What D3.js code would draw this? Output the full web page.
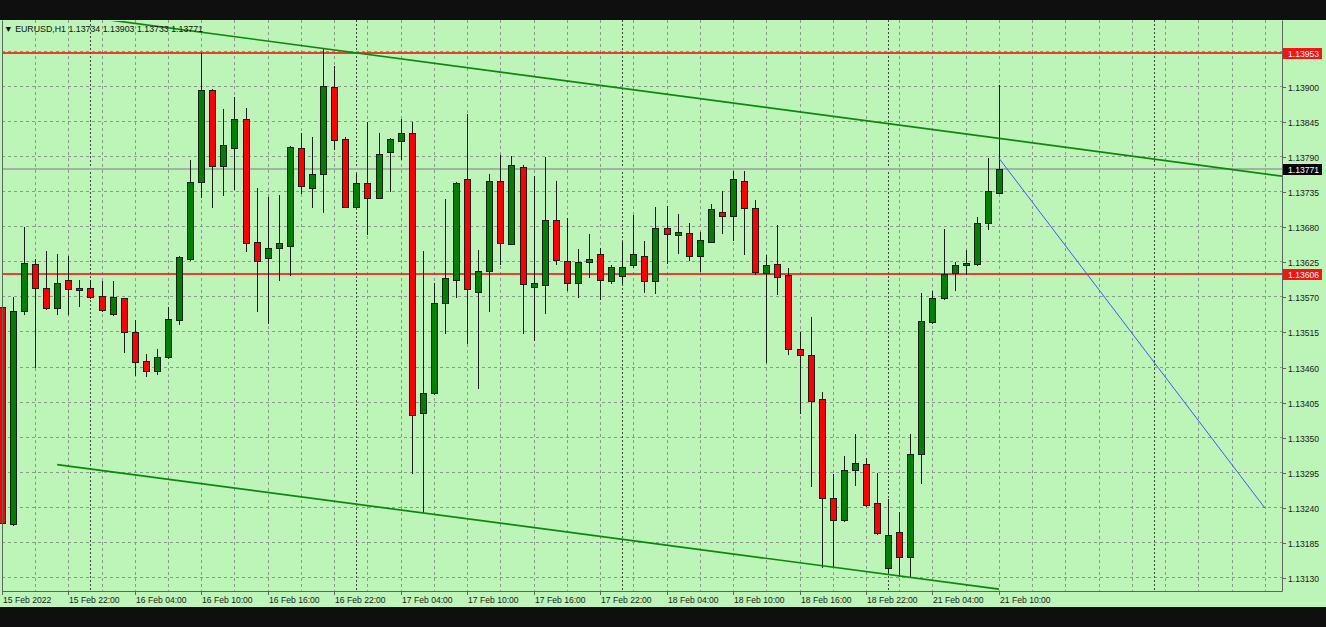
<!DOCTYPE html>
<html><head><meta charset="utf-8">
<script src="https://cdn.jsdelivr.net/npm/d3@7"></script>
<style>
html,body{margin:0;padding:0;background:#0f0f0f;}
svg{display:block;}
text{font-family:"Liberation Sans",Arial,sans-serif;}
</style></head><body>
<svg id="c" width="1326" height="627"></svg>
<script>
const symbol = "EURUSD,H1";
const opens = [1.13555,1.13215,1.13548,1.13623,1.13584,1.13554,1.13598,1.13582,1.13585,1.13572,
1.13544,1.13569,1.13515,1.13470,1.13455,1.13476,1.13534,1.13630,1.13750,1.13895,
1.13776,1.13804,1.13849,1.13656,1.13631,1.13648,1.13651,1.13804,1.13741,1.13764,
1.13900,1.13818,1.13712,1.13749,1.13726,1.13798,1.13815,1.13827,1.13389,1.13420,
1.13561,1.13598,1.13755,1.13579,1.13612,1.13752,1.13654,1.13774,1.13587,1.13589,
1.13691,1.13627,1.13592,1.13625,1.13638,1.13596,1.13604,1.13621,1.13635,1.13595,
1.13678,1.13668,1.13671,1.13635,1.13657,1.13703,1.13697,1.13753,1.13710,1.13608,
1.13623,1.13605,1.13489,1.13479,1.13411,1.13256,1.13221,1.13300,1.13309,1.13248,
1.13146,1.13202,1.13164,1.13325,1.13531,1.13569,1.13608,1.13620,1.13622,1.13686,
1.13734];
const highs = [1.13589,1.13571,1.13681,1.13630,1.13643,1.13638,1.13635,1.13597,1.13597,1.13595,
1.13595,1.13569,1.13534,1.13481,1.13489,1.13555,1.13635,1.13785,1.13953,1.13896,
1.13865,1.13884,1.13866,1.13742,1.13727,1.13730,1.13807,1.13827,1.13821,1.13960,
1.13933,1.13822,1.13764,1.13845,1.13827,1.13819,1.13849,1.13845,1.13643,1.13592,
1.13724,1.13751,1.13858,1.13645,1.13764,1.13793,1.13792,1.13777,1.13760,1.13790,
1.13753,1.13695,1.13646,1.13670,1.13647,1.13621,1.13657,1.13699,1.13659,1.13712,
1.13713,1.13701,1.13686,1.13673,1.13717,1.13737,1.13768,1.13768,1.13723,1.13636,
1.13683,1.13616,1.13515,1.13540,1.13422,1.13293,1.13321,1.13356,1.13318,1.13295,
1.13254,1.13234,1.13356,1.13577,1.13580,1.13677,1.13626,1.13645,1.13696,1.13788,
1.13903];
const lows = [1.13201,1.13213,1.13544,1.13461,1.13552,1.13544,1.13544,1.13557,1.13569,1.13549,
1.13542,1.13485,1.13448,1.13447,1.13450,1.13475,1.13528,1.13629,1.13728,1.13711,
1.13730,1.13740,1.13643,1.13548,1.13530,1.13598,1.13605,1.13734,1.13711,1.13704,
1.13802,1.13711,1.13711,1.13669,1.13725,1.13736,1.13787,1.13295,1.13234,1.13419,
1.13514,1.13570,1.13498,1.13428,1.13549,1.13623,1.13653,1.13514,1.13504,1.13545,
1.13622,1.13582,1.13570,1.13602,1.13567,1.13592,1.13592,1.13617,1.13578,1.13577,
1.13624,1.13640,1.13629,1.13611,1.13656,1.13671,1.13660,1.13638,1.13607,1.13468,
1.13575,1.13481,1.13389,1.13274,1.13148,1.13147,1.13219,1.13276,1.13243,1.13200,
1.13140,1.13133,1.13132,1.13279,1.13530,1.13568,1.13581,1.13607,1.13621,1.13677,
1.13733];
const closes = [1.13216,1.13549,1.13624,1.13585,1.13553,1.13593,1.13583,1.13585,1.13571,1.13550,
1.13570,1.13516,1.13469,1.13455,1.13477,1.13536,1.13634,1.13751,1.13895,1.13776,
1.13808,1.13849,1.13655,1.13627,1.13648,1.13655,1.13806,1.13745,1.13764,1.13901,
1.13817,1.13712,1.13749,1.13726,1.13795,1.13818,1.13827,1.13386,1.13420,1.13561,
1.13600,1.13749,1.13583,1.13612,1.13752,1.13655,1.13777,1.13591,1.13592,1.13691,
1.13629,1.13592,1.13626,1.13630,1.13597,1.13617,1.13617,1.13638,1.13595,1.13678,
1.13669,1.13673,1.13635,1.13660,1.13708,1.13698,1.13755,1.13710,1.13609,1.13620,
1.13602,1.13489,1.13479,1.13408,1.13256,1.13221,1.13299,1.13310,1.13244,1.13201,
1.13198,1.13164,1.13325,1.13533,1.13569,1.13606,1.13621,1.13624,1.13687,1.13736,
1.13771];
const timeTickBars = [0,6,12,18,24,30,36,42,48,54,60,66,72,78,84,90];
const timeTickLabels = ["15 Feb 2022","15 Feb 22:00","16 Feb 04:00","16 Feb 10:00","16 Feb 16:00","16 Feb 22:00",
"17 Feb 04:00","17 Feb 10:00","17 Feb 16:00","17 Feb 22:00","18 Feb 04:00","18 Feb 10:00","18 Feb 16:00",
"18 Feb 22:00","21 Feb 04:00","21 Feb 10:00"];
const priceTicks = [1.13130,1.13185,1.13240,1.13295,1.13350,1.13405,1.13460,1.13515,1.13570,1.13625,
1.13680,1.13735,1.13790,1.13845,1.13900,1.13955];
const daySeparatorBars = [8,32,56,80,104];
const levelLines = [1.13953,1.13606];
const trendUpper = [[29,1.13960],[90,1.13819]];
const trendLower = [[5,1.13308],[90,1.13113]];
const blueLine = [[90,1.13788],[114,1.13240]];

const W = 1326, H = 627;
const P = {left:2, right:1282, top:20, bottom:591};
const svg = d3.select("#c");
const x = d3.scaleLinear().domain([0,115.5]).range([1.8,1281.5]);
const y = d3.scaleLinear().domain([1.13110,1.14003]).range([591,21]);
const fmt = d3.format(".5f");
const BG = "#bdf4b8", GRID = "#8a9a8a", FRAME = "#5a675a";

svg.append("rect").attr("x",0).attr("y",0).attr("width",W).attr("height",H).attr("fill","#0f0f0f");
svg.append("rect").attr("x",0).attr("y",P.top).attr("width",W).attr("height",607-P.top).attr("fill",BG);

svg.append("clipPath").attr("id","pc").append("rect")
  .attr("x",P.left).attr("y",P.top+1).attr("width",P.right-P.left).attr("height",P.bottom-P.top-1);

const g = svg.append("g");
g.selectAll("line.hg").data(priceTicks).join("line")
  .attr("x1",P.left).attr("x2",P.right)
  .attr("y1",d=>Math.round(y(d))-0.5).attr("y2",d=>Math.round(y(d))-0.5)
  .attr("stroke",GRID).attr("stroke-dasharray","3,3").attr("stroke-width",1);
const vgrid = d3.range(3,116,3);
g.selectAll("line.vg").data(vgrid).join("line")
  .attr("x1",d=>Math.round(x(d))+0.5).attr("x2",d=>Math.round(x(d))+0.5)
  .attr("y1",P.top).attr("y2",P.bottom)
  .attr("stroke",GRID).attr("stroke-dasharray","3,3").attr("stroke-width",1);
g.selectAll("line.ds").data(daySeparatorBars).join("line")
  .attr("x1",d=>Math.round(x(d))+0.5).attr("x2",d=>Math.round(x(d))+0.5)
  .attr("y1",P.top).attr("y2",P.bottom)
  .attr("stroke","#3e4a3e").attr("stroke-dasharray","2,2").attr("stroke-width",1);

g.append("line").attr("x1",P.left).attr("x2",P.right)
  .attr("y1",y(closes[closes.length-1])).attr("y2",y(closes[closes.length-1]))
  .attr("stroke","#a3b3a1").attr("stroke-width",2);

g.selectAll("line.lv").data(levelLines).join("line")
  .attr("x1",P.left).attr("x2",P.right)
  .attr("y1",d=>Math.round(y(d))).attr("y2",d=>Math.round(y(d)))
  .attr("stroke","#ff0000").attr("stroke-width",1.6);

const bars = opens.map((o,i)=>({i,o,h:highs[i],l:lows[i],c:closes[i]}));
const cg = svg.append("g");
bars.forEach(b=>{
  const cx = Math.round(x(b.i));
  cg.append("line").attr("x1",cx+0.5).attr("x2",cx+0.5)
    .attr("y1",Math.round(y(b.h))).attr("y2",Math.round(y(b.l))+1)
    .attr("stroke","#1c1c1c").attr("stroke-width",1);
  const top = Math.round(y(Math.max(b.o,b.c))), bot = Math.round(y(Math.min(b.o,b.c)));
  cg.append("rect").attr("x",cx-2.5).attr("y",top+0.5)
    .attr("width",6).attr("height",Math.max(bot-top,1))
    .attr("fill",b.c>=b.o?"#008000":"#ff0000")
    .attr("stroke","#1c1c1c").attr("stroke-width",1);
});

const tg = svg.append("g").attr("clip-path","url(#pc)");
function lineAt(pts, bar){
  const [a,b]=pts; return a[1]+(b[1]-a[1])*(bar-a[0])/(b[0]-a[0]);
}
const b0 = x.invert(P.left), b1 = x.invert(P.right);
tg.append("line").attr("x1",x(b0)).attr("y1",y(lineAt(trendUpper,b0)))
  .attr("x2",x(b1)).attr("y2",y(lineAt(trendUpper,b1)))
  .attr("stroke","#0a8a0a").attr("stroke-width",1.7);
tg.append("line").attr("x1",x(trendLower[0][0])).attr("y1",y(trendLower[0][1]))
  .attr("x2",x(trendLower[1][0])).attr("y2",y(trendLower[1][1]))
  .attr("stroke","#0a8a0a").attr("stroke-width",1.7);
tg.append("line").attr("x1",x(blueLine[0][0])).attr("y1",y(blueLine[0][1]))
  .attr("x2",x(blueLine[1][0])).attr("y2",y(blueLine[1][1]))
  .attr("stroke","#3b5bff").attr("stroke-width",1);

svg.append("path").attr("d",`M${P.left+0.5},${P.top+0.5}V${P.bottom+0.5}H${P.right+0.5}V${P.top+0.5}`)
  .attr("fill","none").attr("stroke",FRAME).attr("stroke-width",1);

const ax = svg.append("g");
priceTicks.forEach(p=>{
  const yy = Math.round(y(p))+0.5;
  ax.append("line").attr("x1",P.right).attr("x2",P.right+4).attr("y1",yy).attr("y2",yy).attr("stroke",FRAME);
  ax.append("text").attr("x",P.right+6).attr("y",yy+3.5).attr("font-size",8.6).attr("fill","#1a1a1a").text(fmt(p));
});
function priceBox(p, fill){
  const yy = Math.round(y(p))+0.5;
  ax.append("rect").attr("x",P.right+1).attr("y",yy-5.5).attr("width",39).attr("height",11).attr("fill",fill);
  ax.append("text").attr("x",P.right+6).attr("y",yy+3.5).attr("font-size",8.6).attr("fill","#ffffff").text(fmt(p));
}
levelLines.forEach(p=>priceBox(p,"#ff1010"));
priceBox(closes[closes.length-1],"#000000");

timeTickBars.forEach((bi,k)=>{
  const xx = Math.round(x(bi))+0.5;
  ax.append("line").attr("x1",xx).attr("x2",xx).attr("y1",P.bottom).attr("y2",P.bottom+4).attr("stroke",FRAME);
  ax.append("text").attr("x",xx+0.5).attr("y",602.5).attr("font-size",8.6).attr("fill","#1a1a1a").text(timeTickLabels[k]);
});

const last = bars[bars.length-1];
svg.append("text").attr("x",4).attr("y",32).attr("font-size",8.8).attr("fill","#111")
  .text(`\u25BC ${symbol}  ${fmt(last.o)} ${fmt(last.h)} ${fmt(last.l)} ${fmt(last.c)}`);
</script>
</body></html>
